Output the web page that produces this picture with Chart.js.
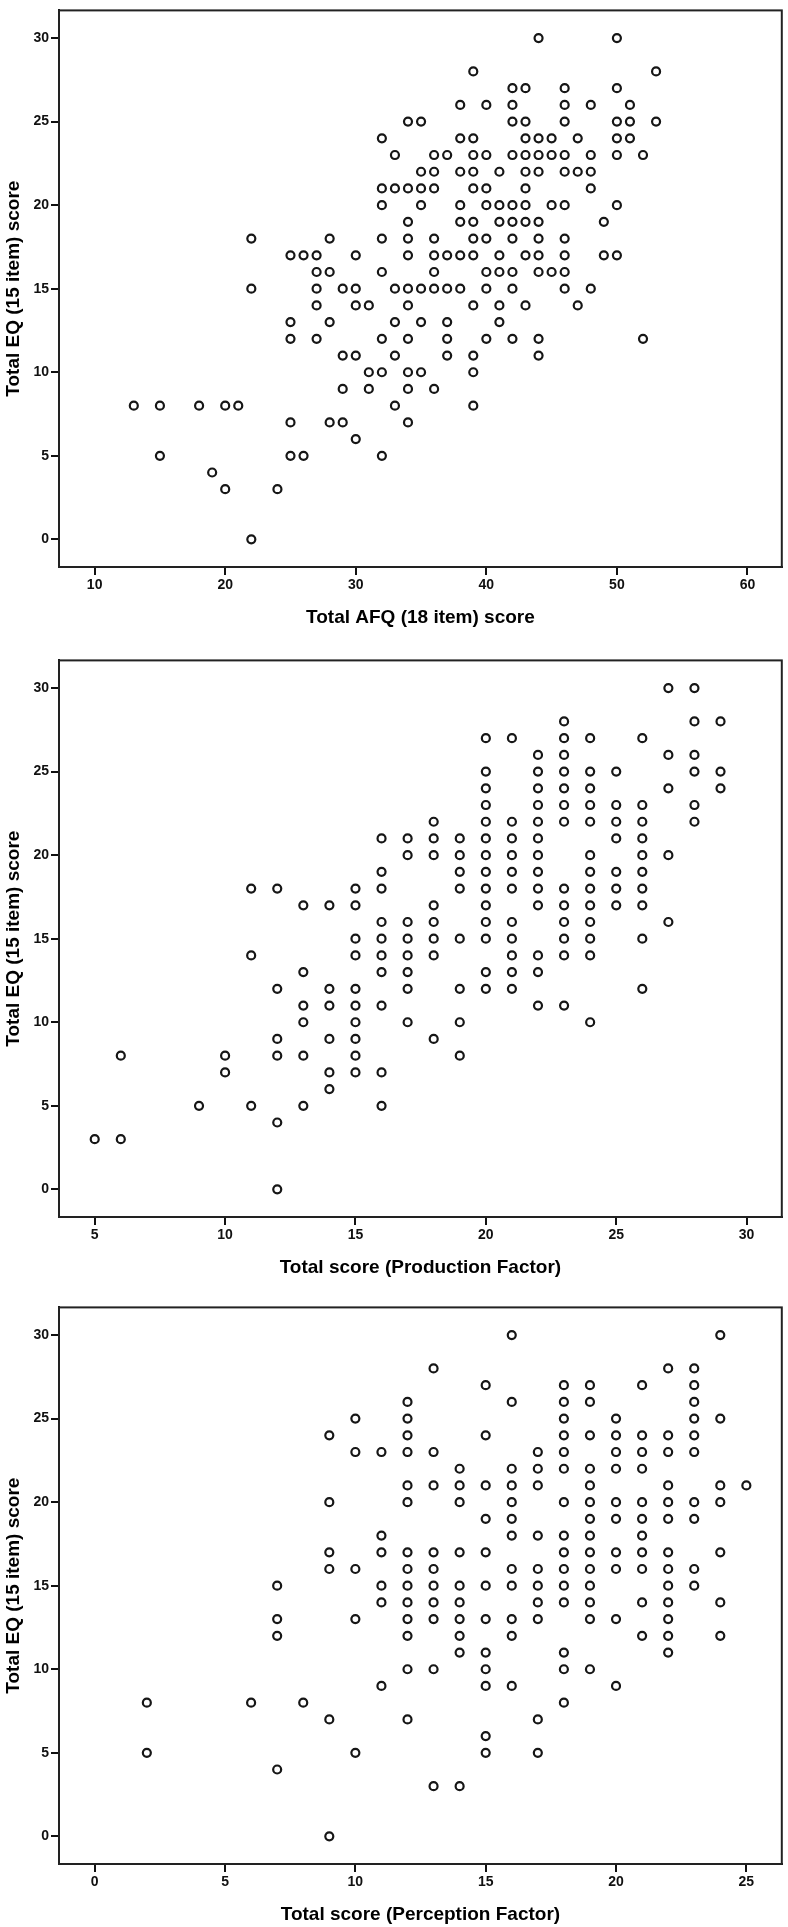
<!DOCTYPE html>
<html>
<head>
<meta charset="utf-8">
<script src="https://cdn.jsdelivr.net/npm/chart.js@4.4.0/dist/chart.umd.min.js"></script>
<style>
html,body{margin:0;padding:0;background:#fff;overflow:hidden;width:788px;height:1927px;position:relative}
.panel{position:absolute;left:0;width:788px;height:630px}
canvas{display:block}
</style>
</head>
<body>
<div class="panel" style="top:0px"><canvas id="c1" width="788" height="630"></canvas></div>
<div class="panel" style="top:650px"><canvas id="c2" width="788" height="630"></canvas></div>
<div class="panel" style="top:1297px"><canvas id="c3" width="788" height="630"></canvas></div>
<script>
// ---------- DATA (rows: [EQ score, [x values observed at that EQ score]]) ----------
const eqTicks = [0, 5, 10, 15, 20, 25, 30];
const eqTitle = 'Total EQ (15 item) score';

const afqTicks = [10, 20, 30, 40, 50, 60];
const afqTitle = 'Total AFQ (18 item) score';
const afqRows = [
  [30, [44, 50]],
  [28, [39, 53]],
  [27, [42, 43, 46, 50]],
  [26, [38, 40, 42, 46, 48, 51]],
  [25, [34, 35, 42, 43, 46, 50, 51, 53]],
  [24, [32, 38, 39, 43, 44, 45, 47, 50, 51]],
  [23, [33, 36, 37, 39, 40, 42, 43, 44, 45, 46, 48, 50, 52]],
  [22, [35, 36, 38, 39, 41, 43, 44, 46, 47, 48]],
  [21, [32, 33, 34, 35, 36, 39, 40, 43, 48]],
  [20, [32, 35, 38, 40, 41, 42, 43, 45, 46, 50]],
  [19, [34, 38, 39, 41, 42, 43, 44, 49]],
  [18, [22, 28, 32, 34, 36, 39, 40, 42, 44, 46]],
  [17, [25, 26, 27, 30, 34, 36, 37, 38, 39, 41, 43, 44, 46, 49, 50]],
  [16, [27, 28, 32, 36, 40, 41, 42, 44, 45, 46]],
  [15, [22, 27, 29, 30, 33, 34, 35, 36, 37, 38, 40, 42, 46, 48]],
  [14, [27, 30, 31, 34, 39, 41, 43, 47]],
  [13, [25, 28, 33, 35, 37, 41]],
  [12, [25, 27, 32, 34, 37, 40, 42, 44, 52]],
  [11, [29, 30, 33, 37, 39, 44]],
  [10, [31, 32, 34, 35, 39]],
  [9,  [29, 31, 34, 36]],
  [8,  [13, 15, 18, 20, 21, 33, 39]],
  [7,  [25, 28, 29, 34]],
  [6,  [30]],
  [5,  [15, 25, 26, 32]],
  [4,  [19]],
  [3,  [20, 24]],
  [0,  [22]]
];

const prodTicks = [5, 10, 15, 20, 25, 30];
const prodTitle = 'Total score (Production Factor)';
const prodRows = [
  [30, [27, 28]],
  [28, [23, 28, 29]],
  [27, [20, 21, 23, 24, 26]],
  [26, [22, 23, 27, 28]],
  [25, [20, 22, 23, 24, 25, 28, 29]],
  [24, [20, 22, 23, 24, 27, 29]],
  [23, [20, 22, 23, 24, 25, 26, 28]],
  [22, [18, 20, 21, 22, 23, 24, 25, 26, 28]],
  [21, [16, 17, 18, 19, 20, 21, 22, 25, 26]],
  [20, [17, 18, 19, 20, 21, 22, 24, 26, 27]],
  [19, [16, 19, 20, 21, 22, 24, 25, 26]],
  [18, [11, 12, 15, 16, 19, 20, 21, 22, 23, 24, 25, 26]],
  [17, [13, 14, 15, 18, 20, 22, 23, 24, 25, 26]],
  [16, [16, 17, 18, 20, 21, 23, 24, 27]],
  [15, [15, 16, 17, 18, 19, 20, 21, 23, 24, 26]],
  [14, [11, 15, 16, 17, 18, 21, 22, 23, 24]],
  [13, [13, 16, 17, 20, 21, 22]],
  [12, [12, 14, 15, 17, 19, 20, 21, 26]],
  [11, [13, 14, 15, 16, 22, 23]],
  [10, [13, 15, 17, 19, 24]],
  [9,  [12, 14, 15, 18]],
  [8,  [6, 10, 12, 13, 15, 19]],
  [7,  [10, 14, 15, 16]],
  [6,  [14]],
  [5,  [9, 11, 13, 16]],
  [4,  [12]],
  [3,  [5, 6]],
  [0,  [12]]
];

const percTicks = [0, 5, 10, 15, 20, 25];
const percTitle = 'Total score (Perception Factor)';
const percRows = [
  [30, [16, 24]],
  [28, [13, 22, 23]],
  [27, [15, 18, 19, 21, 23]],
  [26, [12, 16, 18, 19, 23]],
  [25, [10, 12, 18, 20, 23, 24]],
  [24, [9, 12, 15, 18, 19, 20, 21, 22, 23]],
  [23, [10, 11, 12, 13, 17, 18, 20, 21, 22, 23]],
  [22, [14, 16, 17, 18, 19, 20, 21]],
  [21, [12, 13, 14, 15, 16, 17, 19, 22, 24, 25]],
  [20, [9, 12, 14, 16, 18, 19, 20, 21, 22, 23, 24]],
  [19, [15, 16, 19, 20, 21, 22, 23]],
  [18, [11, 16, 17, 18, 19, 21]],
  [17, [9, 11, 12, 13, 14, 15, 18, 19, 20, 21, 22, 24]],
  [16, [9, 10, 12, 13, 16, 17, 18, 19, 20, 21, 22, 23]],
  [15, [7, 11, 12, 13, 14, 15, 16, 17, 18, 19, 22, 23]],
  [14, [11, 12, 13, 14, 17, 18, 19, 21, 22, 24]],
  [13, [7, 10, 12, 13, 14, 15, 16, 17, 19, 20, 22]],
  [12, [7, 12, 14, 16, 21, 22, 24]],
  [11, [14, 15, 18, 22]],
  [10, [12, 13, 15, 18, 19]],
  [9,  [11, 15, 16, 20]],
  [8,  [2, 6, 8, 18]],
  [7,  [9, 12, 17]],
  [6,  [15]],
  [5,  [2, 10, 15, 17]],
  [4,  [7]],
  [3,  [13, 14]],
  [0,  [9]]
];

// ---------- CHART BUILDING ----------
const FONT = "'Liberation Sans', Arial, Helvetica, sans-serif";
const CANVAS_H = 630;
const AREA_BOTTOM = 567;
const AREA_LEFT = 59;

const boxPlugin = {
  id: 'plotBox',
  afterDatasetsDraw(chart) {
    const {ctx, chartArea: a} = chart;
    ctx.save();
    ctx.strokeStyle = '#222';
    ctx.lineWidth = 2;
    ctx.strokeRect(a.left, a.top, a.right - a.left, a.bottom - a.top);
    ctx.restore();
  }
};

function toPoints(rows) {
  return rows.flatMap(([y, xs]) => xs.map(x => ({x: x, y: y})));
}

function makePanel(id, rows, xMin, xMax, xTicks, xTitle) {
  new Chart(document.getElementById(id), {
    type: 'scatter',
    data: {
      datasets: [{
        data: toPoints(rows),
        pointStyle: 'circle',
        pointRadius: 4,
        pointBorderWidth: 2.2,
        pointBorderColor: '#161616',
        pointBackgroundColor: 'rgba(255,255,255,0)',
        showLine: false
      }]
    },
    options: {
      responsive: false,
      devicePixelRatio: 1,
      animation: false,
      events: [],
      layout: {padding: {top: 3, right: 6, left: 0, bottom: 0}},
      plugins: {legend: {display: false}, tooltip: {enabled: false}},
      scales: {
        x: {
          type: 'linear',
          min: xMin,
          max: xMax,
          afterBuildTicks: s => { s.ticks = xTicks.map(v => ({value: v})); },
          afterFit: s => { s.height = CANVAS_H - AREA_BOTTOM; },
          grid: {drawOnChartArea: false, drawTicks: true, tickLength: 8, color: '#111', lineWidth: 2},
          border: {display: true, color: '#111', width: 2},
          ticks: {color: '#111', font: {family: FONT, size: 14, weight: 'bold'}, padding: 2, maxRotation: 0, autoSkip: false},
          title: {display: true, text: xTitle, color: '#000', font: {family: FONT, size: 19, weight: 'bold'}, padding: {top: 0, bottom: 1}}
        },
        y: {
          type: 'linear',
          min: -1.655,
          max: 31.655,
          afterBuildTicks: s => { s.ticks = eqTicks.map(v => ({value: v})); },
          afterFit: s => { s.width = AREA_LEFT; },
          grid: {drawOnChartArea: false, drawTicks: true, tickLength: 8, color: '#111', lineWidth: 2},
          border: {display: true, color: '#111', width: 2},
          ticks: {color: '#111', font: {family: FONT, size: 14, weight: 'bold'}, padding: 2, autoSkip: false},
          title: {display: true, text: eqTitle, color: '#000', font: {family: FONT, size: 19, weight: 'bold'}, padding: {top: 2, bottom: 0}}
        }
      }
    },
    plugins: [boxPlugin]
  });
}

makePanel('c1', afqRows, 7.27, 62.63, afqTicks, afqTitle);
makePanel('c2', prodRows, 3.63, 31.35, prodTicks, prodTitle);
makePanel('c3', percRows, -1.37, 26.36, percTicks, percTitle);
</script>
</body>
</html>
